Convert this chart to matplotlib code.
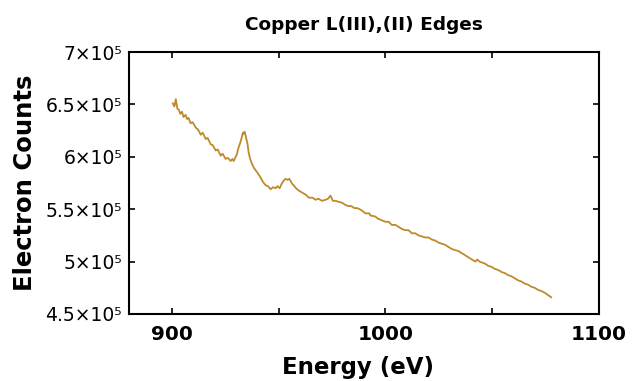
import matplotlib
matplotlib.use("Agg")
import matplotlib.pyplot as plt
from matplotlib.ticker import FuncFormatter, MultipleLocator

plt.rcParams['font.family'] = ['DejaVu Sans']

energy = [900.5, 901.2, 901.9, 902.6, 903.3, 904.0, 904.8, 905.5, 906.5, 907.2,
          907.9, 908.8, 909.8, 911.2, 912.3, 913.6, 914.5, 915.9, 916.8, 918.2,
          919.2, 920.6, 921.5, 922.9, 923.8, 925.2, 926.2, 927.6, 928.4, 929.0,
          929.7, 930.4, 931.3, 932.0, 932.7, 933.3, 933.6, 934.1, 934.6, 935.5,
          936.0, 936.7, 937.4, 938.3, 939.3, 940.4, 941.6, 942.7, 943.9, 945.0,
          946.3, 947.4, 948.6, 949.5, 950.5, 951.4, 952.3, 953.3, 954.2, 955.0,
          955.6, 956.4, 957.0, 958.2, 959.3, 960.9, 962.6, 964.2, 965.9, 967.3,
          968.7, 970.3, 972.0, 973.2, 974.3, 975.4, 976.6, 978.2, 979.9, 981.3,
          982.7, 984.0, 985.5, 987.0, 988.8, 990.7, 992.5, 993.0, 995.3, 996.5,
          997.7, 1000.0, 1001.5, 1003.0, 1004.7, 1006.3, 1007.8, 1009.3, 1010.8, 1012.4,
          1014.0, 1015.5, 1017.1, 1018.7, 1020.2, 1021.8, 1023.4, 1025.0, 1026.5, 1028.0,
          1029.5, 1031.1, 1032.7, 1034.2, 1035.8, 1037.4, 1038.9, 1040.5, 1042.1, 1043.0,
          1044.0, 1045.3, 1046.7, 1048.1, 1049.7, 1051.2, 1052.8, 1054.4, 1055.9, 1057.5,
          1059.0, 1060.6, 1062.2, 1063.7, 1065.2, 1066.8, 1068.3, 1069.9, 1071.5, 1073.0,
          1074.8, 1076.2, 1077.6]
counts_k = [651, 648, 655, 646, 645, 641, 643, 638, 640, 636,
            637, 632, 633, 628, 626, 621, 623, 617, 618, 612,
            611, 606, 607, 601, 603, 598, 599, 596, 598, 596,
            599, 602, 609, 613, 618, 623, 622, 624, 620, 612,
            604, 598, 594, 590, 587, 584, 580, 576, 573, 572,
            569, 571, 570, 572, 570, 574, 577, 579, 578, 579,
            577, 574, 573, 570, 568, 566, 564, 561, 561, 559,
            560, 558, 559, 560, 563, 558, 558, 557, 556, 554,
            553, 553, 551, 551, 549, 546, 546, 544, 543, 541,
            540, 538, 538, 535, 535, 533, 531, 530, 530, 527,
            527, 525, 524, 523, 523, 521, 520, 518, 517, 516,
            514, 512, 511, 510, 508, 506, 504, 502, 500, 502,
            500, 499, 498, 496, 495, 493, 492, 490, 489, 487,
            486, 484, 482, 481, 479, 478, 476, 475, 473, 472,
            470, 468, 466]
counts = [c * 1000 for c in counts_k]

fig = plt.figure(figsize=(6.34, 3.81), dpi=100)
ax = fig.add_axes([0.2035, 0.1759, 0.7413, 0.6876])
ax.plot(energy, counts, color='#BE8A2C', lw=1.3)

ax.set_xlim(880, 1100)
ax.set_ylim(450000, 700000)
ax.xaxis.set_major_locator(MultipleLocator(100))
ax.xaxis.set_minor_locator(MultipleLocator(50))
ax.yaxis.set_major_locator(MultipleLocator(50000))

def yfmt(v, pos):
    m = v / 1e5
    return '%g\u00d710\u2075' % m

ax.yaxis.set_major_formatter(FuncFormatter(yfmt))
ax.tick_params(axis='x', which='both', direction='in', top=True, labelsize=14.5, pad=8, length=4, width=1.2)
ax.tick_params(axis='y', which='both', direction='in', right=True, labelsize=13.5, pad=5, length=4, width=1.2)
for lab in ax.get_xticklabels():
    lab.set_fontweight('bold')
for sp in ax.spines.values():
    sp.set_linewidth(1.5)

ax.set_title('Copper L(III),(II) Edges', fontsize=13.3, fontweight='bold', pad=16)
ax.set_xlabel('Energy (eV)', fontsize=16.5, fontweight='bold', va='top')
ax.set_ylabel('Electron Counts', fontsize=17.5, fontweight='bold', va='center')
ax.xaxis.set_label_coords(0.487, -0.16)
ax.yaxis.set_label_coords(-0.221, 0.5)

fig.savefig('out.png', dpi=100)
